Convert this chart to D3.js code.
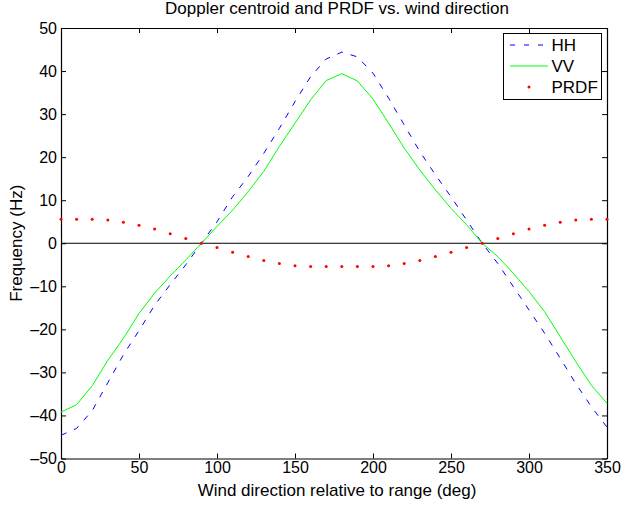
<!DOCTYPE html>
<html>
<head>
<meta charset="utf-8">
<script src="https://cdn.jsdelivr.net/npm/d3@7"></script>
<style>
  body { margin: 0; background: #fff; }
  svg { display: block; font-family: "Liberation Sans", Arial, Helvetica, sans-serif; }
</style>
</head>
<body>
<script>
// ---- data ----
const angles = [0,10,20,30,40,50,60,70,80,90,100,110,120,130,140,150,160,170,
                180,190,200,210,220,230,240,250,260,270,280,290,300,310,320,330,340,350];
const hh = [-44.6,-43.0,-38.9,-32.4,-25.9,-20.3,-14.4,-9.6,-5.0,0.0,
            5.0,10.8,15.5,20.9,26.7,32.9,38.7,42.8,44.4,43.3,
            39.5,33.7,27.5,21.3,15.9,10.8,5.4,0.0,-4.7,-10.1,
            -15.5,-20.9,-26.7,-32.6,-38.0,-42.7];
const vv = [-39.2,-37.5,-33.1,-27.2,-22.1,-16.3,-11.6,-7.6,-3.9,0.0,
            3.9,7.7,12.0,16.7,22.5,27.9,33.3,37.8,39.4,37.7,
            33.5,27.9,22.1,17.0,12.4,8.1,4.3,0.0,-3.1,-7.0,
            -11.2,-15.9,-21.7,-27.5,-33.0,-37.2];
const prdf = [5.6,5.6,5.6,5.4,4.9,4.2,3.3,2.2,1.1,0.0,
              -1.0,-2.1,-3.1,-4.0,-4.7,-5.2,-5.4,-5.4,-5.4,-5.4,
              -5.4,-5.2,-4.7,-4.0,-3.1,-2.1,-1.0,0.0,1.1,2.2,
              3.3,4.2,4.9,5.4,5.6,5.6];
const xTicks = [0,50,100,150,200,250,300,350];
const yTicks = [-50,-40,-30,-20,-10,0,10,20,30,40,50];
const legendLabels = ["HH","VV","PRDF"];
const titleText = "Doppler centroid and PRDF vs. wind direction";
const xLabel = "Wind direction relative to range (deg)";
const yLabel = "Frequency (Hz)";

// ---- layout ----
const W = 621, H = 506;
const L = 61, R = 607, T = 28, B = 458.5;

const svg = d3.select("body").append("svg").attr("width", W).attr("height", H);
svg.append("rect").attr("width", W).attr("height", H).attr("fill", "#fff");

const x = d3.scaleLinear().domain([0, 350]).range([L, R]);
const y = d3.scaleLinear().domain([-50, 50]).range([B, T]);

const fmt = d => d < 0 ? "\u2013" + Math.abs(d) : String(d);

// axes
const gB = svg.append("g").attr("transform", `translate(0,${B})`)
  .call(d3.axisBottom(x).tickValues(xTicks).tickFormat(fmt).tickSizeInner(-5).tickSizeOuter(0).tickPadding(3));
const gT = svg.append("g").attr("transform", `translate(0,${T})`)
  .call(d3.axisTop(x).tickValues(xTicks).tickFormat("").tickSizeInner(-5).tickSizeOuter(0));
const gL = svg.append("g").attr("transform", `translate(${L},0)`)
  .call(d3.axisLeft(y).tickValues(yTicks).tickFormat(fmt).tickSizeInner(-5).tickSizeOuter(0).tickPadding(4));
const gR = svg.append("g").attr("transform", `translate(${R},0)`)
  .call(d3.axisRight(y).tickValues(yTicks).tickFormat("").tickSizeInner(-5).tickSizeOuter(0));
[gB, gT, gL, gR].forEach(g => {
  g.selectAll("path.domain").attr("stroke", "#000").attr("stroke-width", 1.2);
  g.selectAll(".tick line").attr("stroke", "#000").attr("stroke-width", 1);
  g.selectAll("text").attr("font-size", 16).attr("fill", "#000")
    .attr("font-family", "'Liberation Sans', Arial, sans-serif");
});

// zero line
svg.append("line").attr("x1", x(0)).attr("x2", x(350)).attr("y1", y(0)).attr("y2", y(0))
  .attr("stroke", "#000").attr("stroke-width", 1);

const line = d3.line().x((d, i) => x(angles[i])).y(d => y(d));

svg.append("path").datum(hh).attr("d", line).attr("fill", "none")
  .attr("stroke", "#0000ff").attr("stroke-width", 1).attr("stroke-dasharray", "6,8");
svg.append("path").datum(vv).attr("d", line).attr("fill", "none")
  .attr("stroke", "#00ff00").attr("stroke-width", 1);
svg.append("g").selectAll("circle").data(prdf).join("circle")
  .attr("cx", (d, i) => x(angles[i])).attr("cy", d => y(d)).attr("r", 1.5).attr("fill", "#ff0000");

// title and labels
svg.append("text").attr("x", (L + R) / 2 + 3).attr("y", 14).attr("text-anchor", "middle")
  .attr("font-size", 17).text(titleText);
svg.append("text").attr("x", (L + R) / 2 + 3).attr("y", 496).attr("text-anchor", "middle")
  .attr("font-size", 17).text(xLabel);
svg.append("text").attr("transform", `translate(22,${(T + B) / 2}) rotate(-90)`)
  .attr("text-anchor", "middle").attr("font-size", 17).text(yLabel);

// legend
const lg = svg.append("g");
lg.append("rect").attr("x", 503.5).attr("y", 33.5).attr("width", 98).attr("height", 66)
  .attr("fill", "#fff").attr("stroke", "#000").attr("stroke-width", 1);
const rows = [45, 66, 87];
lg.append("line").attr("x1", 510).attr("x2", 548).attr("y1", rows[0]).attr("y2", rows[0])
  .attr("stroke", "#0000ff").attr("stroke-dasharray", "5,9");
lg.append("line").attr("x1", 510).attr("x2", 548).attr("y1", rows[1]).attr("y2", rows[1])
  .attr("stroke", "#00ff00");
lg.append("circle").attr("cx", 529).attr("cy", rows[2]).attr("r", 1.5).attr("fill", "#ff0000");
legendLabels.forEach((t, i) => {
  lg.append("text").attr("x", 551.5).attr("y", rows[i] + 6).attr("font-size", 17).text(t);
});
</script>
</body>
</html>
